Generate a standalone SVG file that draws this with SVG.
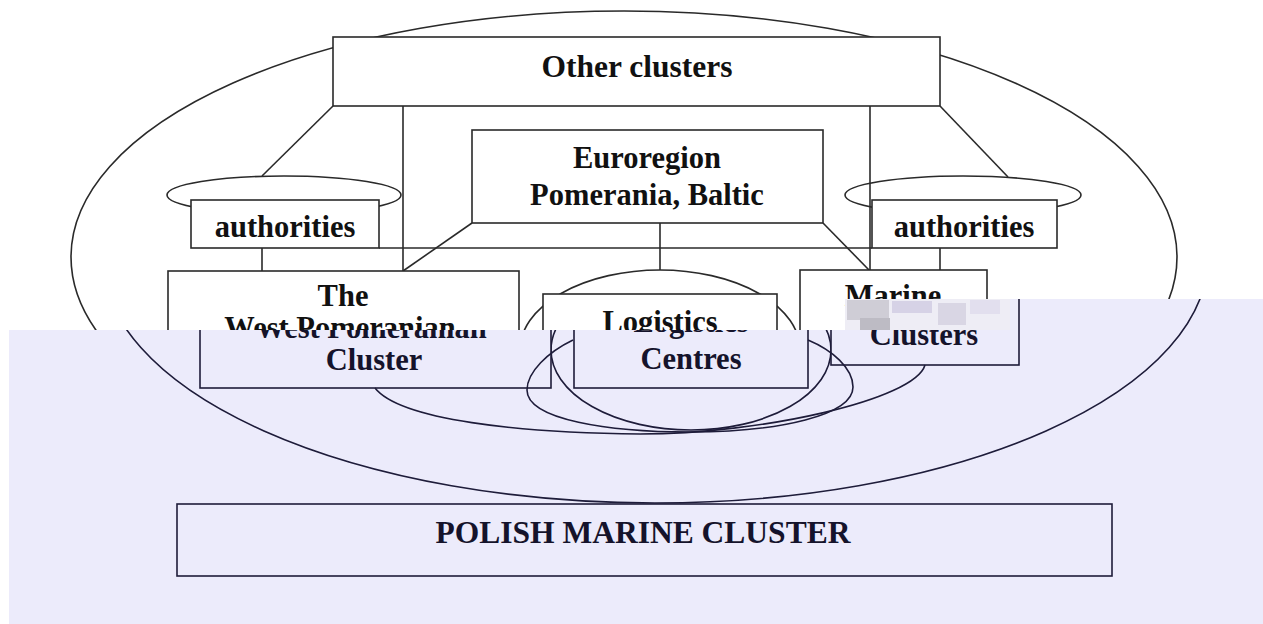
<svg xmlns="http://www.w3.org/2000/svg" width="1263" height="624" viewBox="0 0 1263 624">
<defs>
<style>
.ln{fill:none;stroke:#2a2a2a;stroke-width:1.6}
.bx{fill:#ffffff;stroke:#2a2a2a;stroke-width:1.6}
.tx{font-family:"Liberation Serif","Times New Roman",serif;font-weight:bold;font-size:30.5px;fill:#111111;text-anchor:middle}
.lln{fill:none;stroke:#1e1c3a;stroke-width:1.6}
.lbx{fill:#ecebfb;stroke:#1e1c3a;stroke-width:1.6}
.ltx{font-family:"Liberation Serif","Times New Roman",serif;font-weight:bold;font-size:30.5px;fill:#15132b;text-anchor:middle}
</style>
<clipPath id="clipTop"><polygon points="0,0 1263,0 1263,299 845,299 845,330 0,330"/></clipPath>
<clipPath id="clipLow"><polygon points="9,330 1010,330 1010,299 1263,299 1263,624 9,624"/></clipPath>
</defs>
<rect x="0" y="0" width="1263" height="624" fill="#ffffff"/>

<g id="top-layer" clip-path="url(#clipTop)">
  <ellipse id="outer-ellipse" class="ln" cx="624" cy="257" rx="553" ry="246"/>
  <ellipse id="logistics-ring" class="ln" cx="660" cy="350" rx="140" ry="80"/>
  <g id="connectors">
    <line class="ln" x1="333" y1="106" x2="262" y2="176"/>
    <line class="ln" x1="940" y1="106" x2="1008" y2="177"/>
    <line class="ln" x1="403" y1="106" x2="403" y2="271"/>
    <line class="ln" x1="870" y1="106" x2="870" y2="270"/>
    <line class="ln" x1="379" y1="248" x2="872" y2="248"/>
    <line class="ln" x1="262" y1="248" x2="262" y2="271"/>
    <line class="ln" x1="940" y1="248" x2="940" y2="270"/>
    <line class="ln" x1="472" y1="223" x2="403" y2="271"/>
    <line class="ln" x1="823" y1="223" x2="869" y2="270"/>
    <line class="ln" x1="660" y1="223" x2="660" y2="270"/>
  </g>
  <g id="other-clusters">
    <rect class="bx" x="333" y="37" width="607" height="69"/>
    <text class="tx" x="637" y="77" style="font-size:31.5px">Other clusters</text>
  </g>
  <g id="euroregion">
    <rect class="bx" x="472" y="130" width="351" height="93"/>
    <text class="tx" x="647" y="168">Euroregion</text>
    <text class="tx" x="647" y="205">Pomerania, Baltic</text>
  </g>
  <g id="authorities-left">
    <ellipse class="ln" cx="284" cy="195" rx="117" ry="19"/>
    <rect class="bx" x="191" y="200" width="188" height="48"/>
    <text class="tx" x="285" y="237">authorities</text>
  </g>
  <g id="authorities-right">
    <ellipse class="ln" cx="963" cy="195" rx="118" ry="19"/>
    <rect class="bx" x="872" y="200" width="185" height="48"/>
    <text class="tx" x="964" y="237">authorities</text>
  </g>
  <g id="west-pomeranian">
    <rect class="bx" x="168" y="271" width="351" height="117"/>
    <text class="tx" x="343" y="306">The</text>
    <text class="tx" x="340" y="338">West Pomeranian</text>
  </g>
  <g id="logistics">
    <rect class="bx" x="543" y="294" width="234" height="94"/>
    <text class="tx" x="660" y="332">Logistics</text>
  </g>
  <g id="marine">
    <rect class="bx" x="800" y="270" width="187" height="95"/>
    <text class="tx" x="893" y="306">Marine</text>
  </g>
</g>

<g id="noise">
  <rect x="845" y="299" width="165" height="31" fill="#eeedf5"/>
  <rect x="847" y="300" width="42" height="20" fill="#cfcdd6"/>
  <rect x="860" y="318" width="30" height="12" fill="#bdbbc4"/>
  <rect x="892" y="301" width="40" height="12" fill="#d6d2e6"/>
  <rect x="938" y="303" width="28" height="22" fill="#d9d6e4"/>
  <rect x="970" y="300" width="30" height="14" fill="#e2dfee"/>
</g>

<polygon id="lower-backdrop" points="9,330 1010,330 1010,299 1263,299 1263,624 9,624" fill="#ecebfb"/>

<g id="lower-layer" clip-path="url(#clipLow)">
  <ellipse class="lln" cx="655" cy="257" rx="553" ry="246"/>
  <ellipse class="lln" cx="691" cy="350" rx="140" ry="80"/>
  <g id="lower-west-pomeranian">
    <rect class="lbx" x="200" y="271" width="351" height="117"/>
    <text class="ltx" x="371" y="338">West Pomeranian</text>
    <text class="ltx" x="374" y="370">Cluster</text>
  </g>
  <g id="lower-logistics">
    <rect class="lbx" x="574" y="294" width="234" height="94"/>
    <text class="ltx" x="691" y="332">Logistics</text>
    <text class="ltx" x="691" y="369">Centres</text>
  </g>
  <g id="lower-marine">
    <rect class="lbx" x="831" y="270" width="188" height="95"/>
    <text class="ltx" x="924" y="345">Clusters</text>
  </g>
  <g id="lower-connectors">
    <path class="lln" d="M573,340 C548,352 527,372 527,390 C527,420 610,432 690,432 C780,432 853,415 853,387 C853,368 832,350 808,340"/>
    <path class="lln" d="M375,388 C400,420 520,433 640,434 C760,434 915,400 925,365"/>
  </g>
  <g id="polish-marine-cluster">
    <rect class="lbx" x="177" y="504" width="935" height="72"/>
    <text class="ltx" x="643" y="543" style="font-size:31.5px">POLISH MARINE CLUSTER</text>
  </g>
</g>
</svg>
